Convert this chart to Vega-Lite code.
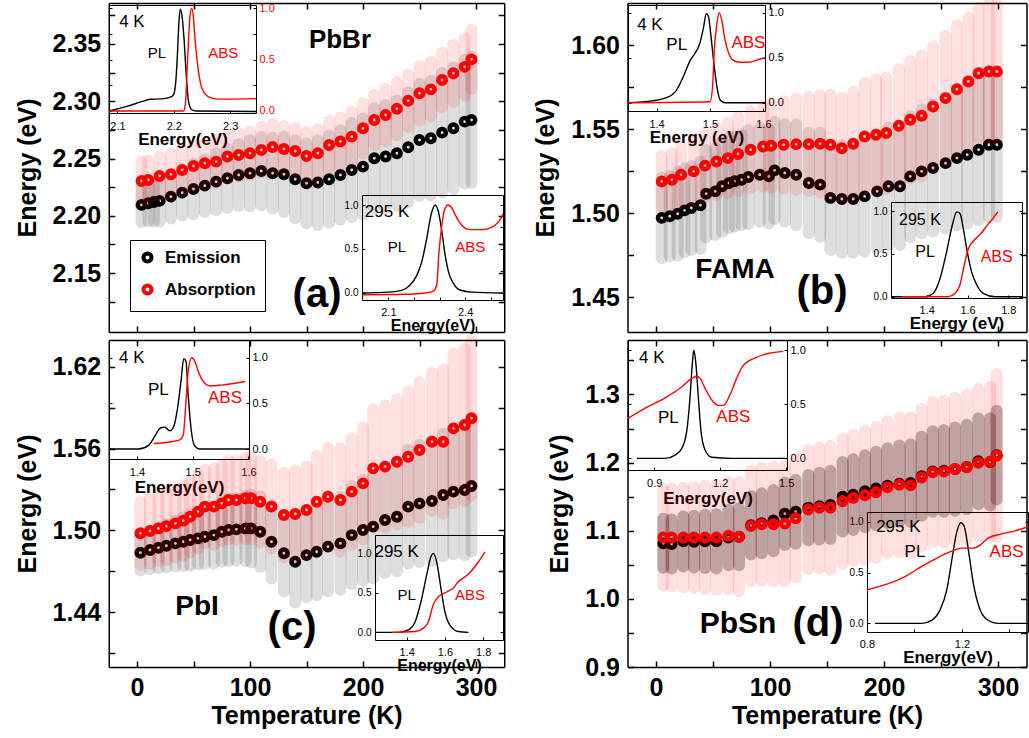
{
"$schema":"https://vega.github.io/schema/vega-lite/v6.json",
"width":1029,"height":738,"autosize":{"type":"none"},"padding":0,
"config":{"view":{"stroke":null},"font":"Liberation Sans","axis":{"grid":false,"domainColor":"#000","tickColor":"#000","labelColor":"#000","titleColor":"#000","labelOverlap":false,"labelFlush":false}},
"datasets":{
"a_em":[{"T":4,"E":2.2095,"err":0.015},{"T":10,"E":2.2109,"err":0.016},{"T":15,"E":2.212,"err":0.017},{"T":20,"E":2.213,"err":0.018},{"T":30,"E":2.2167,"err":0.019},{"T":40,"E":2.2202,"err":0.02},{"T":50,"E":2.2234,"err":0.022},{"T":60,"E":2.2263,"err":0.023},{"T":70,"E":2.2298,"err":0.025},{"T":80,"E":2.2327,"err":0.026},{"T":90,"E":2.2356,"err":0.027},{"T":100,"E":2.2371,"err":0.029},{"T":110,"E":2.2391,"err":0.03},{"T":120,"E":2.2371,"err":0.031},{"T":130,"E":2.2362,"err":0.033},{"T":140,"E":2.2319,"err":0.034},{"T":150,"E":2.2284,"err":0.035},{"T":160,"E":2.229,"err":0.037},{"T":170,"E":2.2319,"err":0.038},{"T":180,"E":2.2356,"err":0.039},{"T":190,"E":2.24,"err":0.041},{"T":200,"E":2.2429,"err":0.042},{"T":210,"E":2.2502,"err":0.044},{"T":220,"E":2.2517,"err":0.045},{"T":230,"E":2.2546,"err":0.046},{"T":240,"E":2.2598,"err":0.048},{"T":250,"E":2.2662,"err":0.049},{"T":260,"E":2.2677,"err":0.05},{"T":270,"E":2.2726,"err":0.052},{"T":280,"E":2.2764,"err":0.053},{"T":290,"E":2.2822,"err":0.054},{"T":296,"E":2.2837,"err":0.055}],
"a_ab":[{"T":4,"E":2.2304,"err":0.017},{"T":10,"E":2.2313,"err":0.017},{"T":20,"E":2.2348,"err":0.017},{"T":30,"E":2.2362,"err":0.018},{"T":40,"E":2.24,"err":0.018},{"T":50,"E":2.2435,"err":0.018},{"T":60,"E":2.2458,"err":0.018},{"T":70,"E":2.2473,"err":0.019},{"T":80,"E":2.2517,"err":0.019},{"T":90,"E":2.2531,"err":0.019},{"T":100,"E":2.2546,"err":0.019},{"T":110,"E":2.2575,"err":0.02},{"T":120,"E":2.26,"err":0.02},{"T":130,"E":2.2583,"err":0.02},{"T":140,"E":2.2566,"err":0.02},{"T":150,"E":2.2522,"err":0.021},{"T":160,"E":2.2546,"err":0.021},{"T":170,"E":2.2618,"err":0.021},{"T":180,"E":2.2648,"err":0.021},{"T":190,"E":2.2691,"err":0.022},{"T":200,"E":2.2764,"err":0.022},{"T":210,"E":2.2837,"err":0.022},{"T":220,"E":2.288,"err":0.023},{"T":230,"E":2.2935,"err":0.023},{"T":240,"E":2.3005,"err":0.023},{"T":250,"E":2.307,"err":0.024},{"T":260,"E":2.3104,"err":0.024},{"T":270,"E":2.3186,"err":0.024},{"T":280,"E":2.3244,"err":0.025},{"T":290,"E":2.33,"err":0.025},{"T":296,"E":2.3366,"err":0.026}],
"b_em":[{"T":5,"E":1.4971,"err":0.024},{"T":12,"E":1.4981,"err":0.024},{"T":19,"E":1.4996,"err":0.025},{"T":25,"E":1.5016,"err":0.025},{"T":31,"E":1.503,"err":0.025},{"T":39,"E":1.5046,"err":0.026},{"T":44,"E":1.5115,"err":0.026},{"T":52,"E":1.5129,"err":0.026},{"T":58,"E":1.5159,"err":0.027},{"T":64,"E":1.5179,"err":0.027},{"T":69,"E":1.5189,"err":0.027},{"T":75,"E":1.5198,"err":0.027},{"T":81,"E":1.5214,"err":0.028},{"T":91,"E":1.5228,"err":0.028},{"T":99,"E":1.5218,"err":0.028},{"T":104,"E":1.5254,"err":0.029},{"T":113,"E":1.5238,"err":0.029},{"T":123,"E":1.5228,"err":0.03},{"T":134,"E":1.5179,"err":0.03},{"T":144,"E":1.5169,"err":0.031},{"T":153,"E":1.509,"err":0.031},{"T":163,"E":1.5084,"err":0.032},{"T":173,"E":1.5084,"err":0.032},{"T":183,"E":1.5099,"err":0.033},{"T":194,"E":1.5129,"err":0.034},{"T":204,"E":1.5159,"err":0.035},{"T":214,"E":1.5159,"err":0.035},{"T":223,"E":1.5218,"err":0.036},{"T":233,"E":1.5248,"err":0.037},{"T":243,"E":1.5268,"err":0.038},{"T":254,"E":1.5297,"err":0.039},{"T":264,"E":1.5327,"err":0.04},{"T":273,"E":1.5347,"err":0.041},{"T":283,"E":1.5377,"err":0.042},{"T":292,"E":1.5406,"err":0.043},{"T":299,"E":1.5406,"err":0.043}],
"b_ab":[{"T":5,"E":1.5188,"err":0.015},{"T":14,"E":1.5198,"err":0.016},{"T":22,"E":1.5228,"err":0.017},{"T":33,"E":1.5248,"err":0.018},{"T":43,"E":1.5282,"err":0.019},{"T":53,"E":1.5307,"err":0.02},{"T":63,"E":1.5327,"err":0.021},{"T":72,"E":1.5351,"err":0.022},{"T":83,"E":1.5377,"err":0.023},{"T":94,"E":1.5396,"err":0.024},{"T":101,"E":1.54,"err":0.025},{"T":112,"E":1.5406,"err":0.026},{"T":123,"E":1.541,"err":0.027},{"T":134,"E":1.541,"err":0.028},{"T":144,"E":1.5412,"err":0.029},{"T":153,"E":1.5406,"err":0.03},{"T":163,"E":1.5386,"err":0.03},{"T":173,"E":1.5412,"err":0.031},{"T":183,"E":1.5456,"err":0.032},{"T":193,"E":1.5466,"err":0.033},{"T":202,"E":1.5476,"err":0.033},{"T":213,"E":1.5519,"err":0.034},{"T":223,"E":1.5555,"err":0.035},{"T":233,"E":1.5579,"err":0.036},{"T":243,"E":1.5634,"err":0.036},{"T":254,"E":1.5684,"err":0.037},{"T":264,"E":1.5737,"err":0.038},{"T":274,"E":1.5783,"err":0.038},{"T":283,"E":1.5832,"err":0.039},{"T":292,"E":1.5842,"err":0.04},{"T":299,"E":1.5842,"err":0.04}],
"c_em":[{"T":3,"E":1.4835,"err":0.013},{"T":11.5,"E":1.4855,"err":0.014},{"T":19,"E":1.4872,"err":0.015},{"T":26,"E":1.4887,"err":0.016},{"T":34,"E":1.4904,"err":0.017},{"T":41,"E":1.4916,"err":0.018},{"T":47,"E":1.4929,"err":0.019},{"T":54,"E":1.4941,"err":0.019},{"T":60,"E":1.4953,"err":0.02},{"T":68,"E":1.4965,"err":0.021},{"T":75,"E":1.499,"err":0.022},{"T":81,"E":1.5002,"err":0.023},{"T":88,"E":1.5007,"err":0.023},{"T":96,"E":1.5014,"err":0.024},{"T":101,"E":1.5014,"err":0.025},{"T":109,"E":1.499,"err":0.026},{"T":119,"E":1.4916,"err":0.027},{"T":130,"E":1.4831,"err":0.028},{"T":140,"E":1.4769,"err":0.03},{"T":150,"E":1.4818,"err":0.031},{"T":159,"E":1.4843,"err":0.032},{"T":169,"E":1.488,"err":0.033},{"T":180,"E":1.4904,"err":0.034},{"T":190,"E":1.4965,"err":0.036},{"T":200,"E":1.5002,"err":0.037},{"T":209,"E":1.5027,"err":0.038},{"T":219.5,"E":1.5076,"err":0.039},{"T":230,"E":1.51,"err":0.04},{"T":240,"E":1.5174,"err":0.042},{"T":250,"E":1.5198,"err":0.043},{"T":261,"E":1.5215,"err":0.044},{"T":271,"E":1.5259,"err":0.045},{"T":280,"E":1.5284,"err":0.046},{"T":290,"E":1.5296,"err":0.048},{"T":296,"E":1.5325,"err":0.048}],
"c_ab":[{"T":3,"E":1.4978,"err":0.023},{"T":11.5,"E":1.4995,"err":0.024},{"T":19,"E":1.5014,"err":0.024},{"T":26,"E":1.5031,"err":0.025},{"T":34,"E":1.5051,"err":0.025},{"T":41,"E":1.5071,"err":0.026},{"T":47,"E":1.51,"err":0.026},{"T":54,"E":1.5137,"err":0.027},{"T":60,"E":1.5174,"err":0.027},{"T":68,"E":1.5174,"err":0.028},{"T":75,"E":1.5198,"err":0.028},{"T":81,"E":1.5223,"err":0.029},{"T":88,"E":1.5223,"err":0.029},{"T":96,"E":1.5235,"err":0.03},{"T":101,"E":1.5235,"err":0.03},{"T":109,"E":1.521,"err":0.03},{"T":119,"E":1.5174,"err":0.031},{"T":130,"E":1.5112,"err":0.031},{"T":140,"E":1.512,"err":0.032},{"T":150,"E":1.5149,"err":0.032},{"T":159,"E":1.521,"err":0.034},{"T":169,"E":1.5247,"err":0.036},{"T":180,"E":1.5223,"err":0.038},{"T":190,"E":1.5284,"err":0.039},{"T":200,"E":1.5345,"err":0.041},{"T":209,"E":1.5455,"err":0.043},{"T":219.5,"E":1.5468,"err":0.045},{"T":230,"E":1.5504,"err":0.046},{"T":240,"E":1.5541,"err":0.048},{"T":250,"E":1.559,"err":0.05},{"T":261,"E":1.5651,"err":0.051},{"T":271,"E":1.5651,"err":0.053},{"T":280,"E":1.5749,"err":0.055},{"T":290,"E":1.5774,"err":0.056},{"T":296,"E":1.5823,"err":0.057}],
"d_em":[{"T":6.4,"E":1.0815,"err":0.036},{"T":13.7,"E":1.0805,"err":0.036},{"T":24,"E":1.0844,"err":0.037},{"T":33.3,"E":1.0839,"err":0.038},{"T":43,"E":1.0844,"err":0.039},{"T":53,"E":1.0844,"err":0.04},{"T":63.5,"E":1.0902,"err":0.041},{"T":72.8,"E":1.0912,"err":0.042},{"T":83.3,"E":1.108,"err":0.043},{"T":92.7,"E":1.111,"err":0.044},{"T":103,"E":1.115,"err":0.045},{"T":113,"E":1.125,"err":0.046},{"T":122.5,"E":1.128,"err":0.047},{"T":133.6,"E":1.134,"err":0.048},{"T":143.3,"E":1.136,"err":0.049},{"T":153,"E":1.138,"err":0.05},{"T":163.7,"E":1.15,"err":0.051},{"T":173,"E":1.153,"err":0.052},{"T":183.3,"E":1.158,"err":0.053},{"T":193,"E":1.162,"err":0.054},{"T":203,"E":1.166,"err":0.055},{"T":213.5,"E":1.169,"err":0.056},{"T":223.4,"E":1.17,"err":0.057},{"T":233,"E":1.18,"err":0.058},{"T":242.7,"E":1.187,"err":0.059},{"T":252.6,"E":1.188,"err":0.06},{"T":262.3,"E":1.1905,"err":0.061},{"T":272.5,"E":1.1935,"err":0.062},{"T":282.7,"E":1.202,"err":0.063},{"T":293,"E":1.201,"err":0.064},{"T":298.8,"E":1.211,"err":0.065}],
"d_ab":[{"T":6.4,"E":1.0902,"err":0.071},{"T":13.7,"E":1.0902,"err":0.072},{"T":24,"E":1.0902,"err":0.073},{"T":33.3,"E":1.0902,"err":0.074},{"T":43,"E":1.0902,"err":0.076},{"T":53,"E":1.0902,"err":0.077},{"T":63.5,"E":1.0927,"err":0.079},{"T":72.8,"E":1.0912,"err":0.08},{"T":83.3,"E":1.1071,"err":0.081},{"T":92.7,"E":1.1096,"err":0.083},{"T":103,"E":1.1096,"err":0.084},{"T":113,"E":1.1105,"err":0.085},{"T":122.5,"E":1.1183,"err":0.087},{"T":133.6,"E":1.1313,"err":0.088},{"T":143.3,"E":1.1337,"err":0.089},{"T":153,"E":1.1337,"err":0.091},{"T":163.7,"E":1.1434,"err":0.092},{"T":173,"E":1.1482,"err":0.093},{"T":183.3,"E":1.1521,"err":0.095},{"T":193,"E":1.1564,"err":0.096},{"T":203,"E":1.1637,"err":0.097},{"T":213.5,"E":1.1675,"err":0.099},{"T":223.4,"E":1.1666,"err":0.1},{"T":233,"E":1.1781,"err":0.101},{"T":242.7,"E":1.1859,"err":0.103},{"T":252.6,"E":1.1868,"err":0.104},{"T":262.3,"E":1.1907,"err":0.105},{"T":272.5,"E":1.1931,"err":0.107},{"T":282.7,"E":1.1999,"err":0.108},{"T":293,"E":1.2013,"err":0.11},{"T":298.8,"E":1.21,"err":0.12}],
"a1_pl":[{"E":2.085,"v":0},{"E":2.12,"v":0.05},{"E":2.143,"v":0.09},{"E":2.158,"v":0.113},{"E":2.179,"v":0.117},{"E":2.1965,"v":0.14},{"E":2.2005,"v":0.17},{"E":2.2035,"v":0.28},{"E":2.2065,"v":0.55},{"E":2.209,"v":0.85},{"E":2.2115,"v":0.99},{"E":2.2145,"v":0.93},{"E":2.218,"v":0.72},{"E":2.222,"v":0.36},{"E":2.226,"v":0.1},{"E":2.232,"v":0.01},{"E":2.24,"v":0},{"E":2.346,"v":-0.005}],
"a1_abs":[{"E":2.085,"v":0},{"E":2.217,"v":0},{"E":2.2205,"v":0.06},{"E":2.2235,"v":0.38},{"E":2.2265,"v":0.72},{"E":2.229,"v":0.93},{"E":2.232,"v":1.0},{"E":2.235,"v":0.9},{"E":2.238,"v":0.68},{"E":2.244,"v":0.38},{"E":2.25,"v":0.22},{"E":2.261,"v":0.14},{"E":2.279,"v":0.115},{"E":2.346,"v":0.12}],
"a2_pl":[{"E":1.997,"v":0},{"E":2.1,"v":0.01},{"E":2.152,"v":0.03},{"E":2.185,"v":0.09},{"E":2.211,"v":0.2},{"E":2.231,"v":0.36},{"E":2.25,"v":0.62},{"E":2.267,"v":0.89},{"E":2.283,"v":1.0},{"E":2.296,"v":0.92},{"E":2.309,"v":0.7},{"E":2.322,"v":0.43},{"E":2.335,"v":0.24},{"E":2.354,"v":0.11},{"E":2.38,"v":0.034},{"E":2.426,"v":0.01},{"E":2.547,"v":0}],
"a2_abs":[{"E":1.997,"v":-0.02},{"E":2.165,"v":-0.015},{"E":2.244,"v":0},{"E":2.276,"v":0.02},{"E":2.289,"v":0.09},{"E":2.298,"v":0.47},{"E":2.309,"v":0.77},{"E":2.319,"v":0.94},{"E":2.332,"v":1.0},{"E":2.345,"v":0.98},{"E":2.361,"v":0.89},{"E":2.387,"v":0.77},{"E":2.42,"v":0.72},{"E":2.466,"v":0.72},{"E":2.505,"v":0.75},{"E":2.544,"v":0.87},{"E":2.547,"v":0.9}],
"b1_pl":[{"E":1.3465,"v":0},{"E":1.391,"v":0.02},{"E":1.416,"v":0.05},{"E":1.435,"v":0.12},{"E":1.45,"v":0.29},{"E":1.463,"v":0.47},{"E":1.472,"v":0.55},{"E":1.481,"v":0.66},{"E":1.488,"v":0.84},{"E":1.493,"v":0.99},{"E":1.497,"v":0.96},{"E":1.502,"v":0.73},{"E":1.506,"v":0.51},{"E":1.513,"v":0.18},{"E":1.519,"v":0.03},{"E":1.528,"v":0},{"E":1.603,"v":0}],
"b1_abs":[{"E":1.3465,"v":0},{"E":1.5,"v":0.01},{"E":1.505,"v":0.19},{"E":1.508,"v":0.58},{"E":1.513,"v":0.88},{"E":1.517,"v":1.0},{"E":1.522,"v":0.92},{"E":1.528,"v":0.7},{"E":1.535,"v":0.55},{"E":1.544,"v":0.47},{"E":1.556,"v":0.45},{"E":1.572,"v":0.45},{"E":1.591,"v":0.48},{"E":1.603,"v":0.5}],
"b2_pl":[{"E":1.225,"v":0},{"E":1.392,"v":0},{"E":1.432,"v":0.04},{"E":1.465,"v":0.21},{"E":1.498,"v":0.53},{"E":1.526,"v":0.84},{"E":1.547,"v":0.99},{"E":1.563,"v":0.97},{"E":1.579,"v":0.8},{"E":1.596,"v":0.56},{"E":1.62,"v":0.29},{"E":1.645,"v":0.14},{"E":1.677,"v":0.04},{"E":1.735,"v":0},{"E":1.866,"v":0}],
"b2_abs":[{"E":1.277,"v":0},{"E":1.506,"v":0},{"E":1.539,"v":0.04},{"E":1.563,"v":0.14},{"E":1.584,"v":0.37},{"E":1.604,"v":0.56},{"E":1.637,"v":0.67},{"E":1.67,"v":0.75},{"E":1.702,"v":0.85},{"E":1.727,"v":0.92},{"E":1.748,"v":0.99}],
"c1_pl":[{"E":1.35,"v":0},{"E":1.403,"v":0},{"E":1.421,"v":0.04},{"E":1.433,"v":0.15},{"E":1.442,"v":0.23},{"E":1.45,"v":0.24},{"E":1.459,"v":0.2},{"E":1.465,"v":0.23},{"E":1.473,"v":0.45},{"E":1.479,"v":0.74},{"E":1.484,"v":0.99},{"E":1.488,"v":0.96},{"E":1.492,"v":0.59},{"E":1.497,"v":0.23},{"E":1.503,"v":0.04},{"E":1.513,"v":0},{"E":1.601,"v":0}],
"c1_abs":[{"E":1.43,"v":0.06},{"E":1.462,"v":0.08},{"E":1.477,"v":0.1},{"E":1.483,"v":0.15},{"E":1.488,"v":0.52},{"E":1.492,"v":0.85},{"E":1.498,"v":1.0},{"E":1.504,"v":0.96},{"E":1.51,"v":0.85},{"E":1.519,"v":0.74},{"E":1.531,"v":0.69},{"E":1.552,"v":0.7},{"E":1.576,"v":0.72},{"E":1.594,"v":0.74}],
"c2_pl":[{"E":1.235,"v":0},{"E":1.357,"v":0},{"E":1.409,"v":0.03},{"E":1.444,"v":0.13},{"E":1.475,"v":0.39},{"E":1.505,"v":0.73},{"E":1.527,"v":0.96},{"E":1.539,"v":1.0},{"E":1.557,"v":0.89},{"E":1.579,"v":0.56},{"E":1.6,"v":0.26},{"E":1.626,"v":0.09},{"E":1.669,"v":0.01},{"E":1.722,"v":0}],
"c2_abs":[{"E":1.322,"v":0},{"E":1.444,"v":0.01},{"E":1.487,"v":0.05},{"E":1.513,"v":0.13},{"E":1.539,"v":0.35},{"E":1.565,"v":0.45},{"E":1.609,"v":0.51},{"E":1.644,"v":0.56},{"E":1.669,"v":0.64},{"E":1.704,"v":0.7},{"E":1.739,"v":0.78},{"E":1.774,"v":0.89},{"E":1.809,"v":1.02}],
"d1_pl":[{"E":0.821,"v":0},{"E":0.95,"v":0},{"E":0.995,"v":0.03},{"E":1.025,"v":0.09},{"E":1.048,"v":0.25},{"E":1.063,"v":0.56},{"E":1.074,"v":0.89},{"E":1.08,"v":1.0},{"E":1.089,"v":0.89},{"E":1.101,"v":0.56},{"E":1.113,"v":0.25},{"E":1.131,"v":0.08},{"E":1.162,"v":0.01},{"E":1.253,"v":0},{"E":1.495,"v":0}],
"d1_abs":[{"E":0.781,"v":0.37},{"E":0.874,"v":0.48},{"E":0.95,"v":0.56},{"E":1.025,"v":0.66},{"E":1.071,"v":0.74},{"E":1.094,"v":0.76},{"E":1.109,"v":0.74},{"E":1.131,"v":0.65},{"E":1.162,"v":0.54},{"E":1.192,"v":0.49},{"E":1.215,"v":0.49},{"E":1.245,"v":0.59},{"E":1.275,"v":0.74},{"E":1.305,"v":0.86},{"E":1.359,"v":0.93},{"E":1.419,"v":0.97},{"E":1.487,"v":0.99}],
"d2_pl":[{"E":0.834,"v":0},{"E":1.03,"v":0},{"E":1.072,"v":0.03},{"E":1.107,"v":0.13},{"E":1.136,"v":0.33},{"E":1.159,"v":0.65},{"E":1.178,"v":0.9},{"E":1.196,"v":0.99},{"E":1.21,"v":0.95},{"E":1.227,"v":0.72},{"E":1.248,"v":0.39},{"E":1.272,"v":0.16},{"E":1.304,"v":0.04},{"E":1.353,"v":0},{"E":1.478,"v":0}],
"d2_abs":[{"E":0.8,"v":0.33},{"E":0.89,"v":0.39},{"E":0.96,"v":0.46},{"E":1.03,"v":0.56},{"E":1.1,"v":0.65},{"E":1.157,"v":0.71},{"E":1.199,"v":0.74},{"E":1.248,"v":0.74},{"E":1.276,"v":0.77},{"E":1.311,"v":0.84},{"E":1.367,"v":0.88},{"E":1.423,"v":0.91},{"E":1.478,"v":0.95}]
},
"layer":[
{"layer":[
 {"data":{"name":"a_em"},"mark":{"type":"errorbar","ticks":false,"thickness":12,"color":"#000","opacity":0.13,"rule":{"strokeCap":"round"}},
  "encoding":{"x":{"field":"T","type":"quantitative","scale":{"domain":[-25,325],"range":[108.75,504.25],"nice":false,"zero":false},"axis":null},"y":{"field":"E","type":"quantitative","scale":{"domain":[2.0985,2.3858],"range":[332,3],"nice":false,"zero":false},"axis":null},"yError":{"field":"err"}}},
 {"data":{"name":"a_em"},"mark":{"type":"point","shape":"circle","filled":false,"size":55,"strokeWidth":4.5,"opacity":1},
  "encoding":{"x":{"field":"T","type":"quantitative","scale":{"domain":[-25,325],"range":[108.75,504.25],"nice":false,"zero":false},"axis":{"orient":"bottom","offset":-406,"values":[0,50,100,150,200,250,300],"labels":false,"tickSize":-6,"tickWidth":1.5,"domainWidth":1.5,"title":null}},
   "y":{"field":"E","type":"quantitative","scale":{"domain":[2.0985,2.3858],"range":[332,3],"nice":false,"zero":false},"axis":{"orient":"left","offset":-108.75,"values":[2.125,2.15,2.175,2.2,2.225,2.25,2.275,2.3,2.325,2.35,2.375],"labelExpr":"round(datum.value*1000) % 50 == 0 ? format(datum.value, '.2f') : ''","tickSize":-6,"tickWidth":1.5,"domainWidth":1.5,"labelPadding":14,"labelFontSize":25,"labelFontWeight":"bold","title":"Energy (eV)","titleFontSize":25,"titleFontWeight":"bold","titlePadding":12}},
   "color":{"datum":"Emission","scale":{"domain":["Emission","Absorption"],"range":["#000000","#ff0000"]},"legend":{"orient":"none","legendX":130,"legendY":240,"title":null,"strokeColor":"#000","fillColor":"#fff","padding":9,"labelFontSize":17,"labelFontWeight":"bold","symbolType":"circle","symbolSize":65,"symbolStrokeWidth":4,"rowPadding":7,"labelOffset":9}}}},
 {"data":{"name":"a_ab"},"mark":{"type":"errorbar","ticks":false,"thickness":12,"color":"#ff0000","opacity":0.12,"rule":{"strokeCap":"round"}},
  "encoding":{"x":{"field":"T","type":"quantitative","scale":{"domain":[-25,325],"range":[108.75,504.25],"nice":false,"zero":false},"axis":null},"y":{"field":"E","type":"quantitative","scale":{"domain":[2.0985,2.3858],"range":[332,3],"nice":false,"zero":false},"axis":null},"yError":{"field":"err"}}},
 {"data":{"name":"a_ab"},"mark":{"type":"point","shape":"circle","filled":false,"size":55,"strokeWidth":4.5,"opacity":1},
  "encoding":{"x":{"field":"T","type":"quantitative","scale":{"domain":[-25,325],"range":[108.75,504.25],"nice":false,"zero":false},"axis":{"orient":"top","offset":-3,"values":[0,50,100,150,200,250,300],"labels":false,"tickSize":-6,"tickWidth":1.5,"domainWidth":1.5,"title":null}},
   "y":{"field":"E","type":"quantitative","scale":{"domain":[2.0985,2.3858],"range":[332,3],"nice":false,"zero":false},"axis":{"orient":"right","offset":-524.75,"values":[2.125,2.15,2.175,2.2,2.225,2.25,2.275,2.3,2.325,2.35,2.375],"labels":false,"tickSize":-6,"tickWidth":1.5,"domainWidth":1.5,"title":null}},
   "color":{"datum":"Absorption"}}},
 {"data":{"values":[{"T":179.6,"E":2.3535,"t":"PbBr"}]},"mark":{"type":"text","fontSize":26,"fontWeight":"bold","color":"#000"},
  "encoding":{"x":{"field":"T","type":"quantitative","scale":{"domain":[-25,325],"range":[108.75,504.25],"nice":false,"zero":false},"axis":null},"y":{"field":"E","type":"quantitative","scale":{"domain":[2.0985,2.3858],"range":[332,3],"nice":false,"zero":false},"axis":null},"text":{"field":"t"}}},
 {"data":{"values":[{"T":159.3,"E":2.1309,"t":"(a)"}]},"mark":{"type":"text","fontSize":40,"fontWeight":"bold","color":"#000"},
  "encoding":{"x":{"field":"T","type":"quantitative","scale":{"domain":[-25,325],"range":[108.75,504.25],"nice":false,"zero":false},"axis":null},"y":{"field":"E","type":"quantitative","scale":{"domain":[2.0985,2.3858],"range":[332,3],"nice":false,"zero":false},"axis":null},"text":{"field":"t"}}}
],"resolve":{"axis":{"x":"independent","y":"independent"}}},

{"layer":[
 {"data":{"name":"b_em"},"mark":{"type":"errorbar","ticks":false,"thickness":12,"color":"#000","opacity":0.13,"rule":{"strokeCap":"round"}},
  "encoding":{"x":{"field":"T","type":"quantitative","scale":{"domain":[-25,325],"range":[627.5,1026.5],"nice":false,"zero":false},"axis":null},"y":{"field":"E","type":"quantitative","scale":{"domain":[1.4292,1.625],"range":[332,3],"nice":false,"zero":false},"axis":null},"yError":{"field":"err"}}},
 {"data":{"name":"b_em"},"mark":{"type":"point","shape":"circle","filled":false,"size":55,"strokeWidth":4.5,"opacity":1,"color":"#000"},
  "encoding":{"x":{"field":"T","type":"quantitative","scale":{"domain":[-25,325],"range":[627.5,1026.5],"nice":false,"zero":false},"axis":{"orient":"bottom","offset":-406,"values":[0,50,100,150,200,250,300],"labels":false,"tickSize":-6,"tickWidth":1.5,"domainWidth":1.5,"title":null}},
   "y":{"field":"E","type":"quantitative","scale":{"domain":[1.4292,1.625],"range":[332,3],"nice":false,"zero":false},"axis":{"orient":"left","offset":-627.5,"values":[1.45,1.475,1.5,1.525,1.55,1.575,1.6],"labelExpr":"round(datum.value*1000) % 50 == 0 ? format(datum.value, '.2f') : ''","tickSize":-6,"tickWidth":1.5,"domainWidth":1.5,"labelPadding":14,"labelFontSize":25,"labelFontWeight":"bold","title":"Energy (eV)","titleFontSize":25,"titleFontWeight":"bold","titlePadding":12}}}},
 {"data":{"name":"b_ab"},"mark":{"type":"errorbar","ticks":false,"thickness":12,"color":"#ff0000","opacity":0.12,"rule":{"strokeCap":"round"}},
  "encoding":{"x":{"field":"T","type":"quantitative","scale":{"domain":[-25,325],"range":[627.5,1026.5],"nice":false,"zero":false},"axis":null},"y":{"field":"E","type":"quantitative","scale":{"domain":[1.4292,1.625],"range":[332,3],"nice":false,"zero":false},"axis":null},"yError":{"field":"err"}}},
 {"data":{"name":"b_ab"},"mark":{"type":"point","shape":"circle","filled":false,"size":55,"strokeWidth":4.5,"opacity":1,"color":"#ff0000"},
  "encoding":{"x":{"field":"T","type":"quantitative","scale":{"domain":[-25,325],"range":[627.5,1026.5],"nice":false,"zero":false},"axis":{"orient":"top","offset":-3,"values":[0,50,100,150,200,250,300],"labels":false,"tickSize":-6,"tickWidth":1.5,"domainWidth":1.5,"title":null}},
   "y":{"field":"E","type":"quantitative","scale":{"domain":[1.4292,1.625],"range":[332,3],"nice":false,"zero":false},"axis":{"orient":"right","offset":-2.5,"values":[1.45,1.475,1.5,1.525,1.55,1.575,1.6],"labels":false,"tickSize":-6,"tickWidth":1.5,"domainWidth":1.5,"title":null}}}},
 {"data":{"values":[{"T":69.3,"E":1.4661,"t":"FAMA"}]},"mark":{"type":"text","fontSize":28,"fontWeight":"bold","color":"#000"},
  "encoding":{"x":{"field":"T","type":"quantitative","scale":{"domain":[-25,325],"range":[627.5,1026.5],"nice":false,"zero":false},"axis":null},"y":{"field":"E","type":"quantitative","scale":{"domain":[1.4292,1.625],"range":[332,3],"nice":false,"zero":false},"axis":null},"text":{"field":"t"}}},
 {"data":{"values":[{"T":145.6,"E":1.453,"t":"(b)"}]},"mark":{"type":"text","fontSize":40,"fontWeight":"bold","color":"#000"},
  "encoding":{"x":{"field":"T","type":"quantitative","scale":{"domain":[-25,325],"range":[627.5,1026.5],"nice":false,"zero":false},"axis":null},"y":{"field":"E","type":"quantitative","scale":{"domain":[1.4292,1.625],"range":[332,3],"nice":false,"zero":false},"axis":null},"text":{"field":"t"}}}
],"resolve":{"axis":{"x":"independent","y":"independent"}}},

{"layer":[
 {"data":{"name":"c_em"},"mark":{"type":"errorbar","ticks":false,"thickness":12,"color":"#000","opacity":0.13,"rule":{"strokeCap":"round"}},
  "encoding":{"x":{"field":"T","type":"quantitative","scale":{"domain":[-25,325],"range":[108.75,504.25],"nice":false,"zero":false},"axis":null},"y":{"field":"E","type":"quantitative","scale":{"domain":[1.3996,1.6398],"range":[667,340],"nice":false,"zero":false},"axis":null},"yError":{"field":"err"}}},
 {"data":{"name":"c_em"},"mark":{"type":"point","shape":"circle","filled":false,"size":55,"strokeWidth":4.5,"opacity":1,"color":"#000"},
  "encoding":{"x":{"field":"T","type":"quantitative","scale":{"domain":[-25,325],"range":[108.75,504.25],"nice":false,"zero":false},"axis":{"orient":"bottom","offset":-71,"values":[0,50,100,150,200,250,300],"labelExpr":"datum.value % 100 == 0 ? format(datum.value, 'd') : ''","tickSize":-6,"tickWidth":1.5,"domainWidth":1.5,"labelPadding":14,"labelFontSize":25,"labelFontWeight":"bold","title":"Temperature (K)","titleFontSize":25,"titleFontWeight":"bold","titlePadding":3}},
   "y":{"field":"E","type":"quantitative","scale":{"domain":[1.3996,1.6398],"range":[667,340],"nice":false,"zero":false},"axis":{"orient":"left","offset":-108.75,"values":[1.41,1.44,1.47,1.5,1.53,1.56,1.59,1.62],"labelExpr":"round(datum.value*100) % 6 == 0 ? format(datum.value, '.2f') : ''","tickSize":-6,"tickWidth":1.5,"domainWidth":1.5,"labelPadding":14,"labelFontSize":25,"labelFontWeight":"bold","title":"Energy (eV)","titleFontSize":25,"titleFontWeight":"bold","titlePadding":12}}}},
 {"data":{"name":"c_ab"},"mark":{"type":"errorbar","ticks":false,"thickness":12,"color":"#ff0000","opacity":0.12,"rule":{"strokeCap":"round"}},
  "encoding":{"x":{"field":"T","type":"quantitative","scale":{"domain":[-25,325],"range":[108.75,504.25],"nice":false,"zero":false},"axis":null},"y":{"field":"E","type":"quantitative","scale":{"domain":[1.3996,1.6398],"range":[667,340],"nice":false,"zero":false},"axis":null},"yError":{"field":"err"}}},
 {"data":{"name":"c_ab"},"mark":{"type":"point","shape":"circle","filled":false,"size":55,"strokeWidth":4.5,"opacity":1,"color":"#ff0000"},
  "encoding":{"x":{"field":"T","type":"quantitative","scale":{"domain":[-25,325],"range":[108.75,504.25],"nice":false,"zero":false},"axis":{"orient":"top","offset":-340,"values":[0,50,100,150,200,250,300],"labels":false,"tickSize":-6,"tickWidth":1.5,"domainWidth":1.5,"title":null}},
   "y":{"field":"E","type":"quantitative","scale":{"domain":[1.3996,1.6398],"range":[667,340],"nice":false,"zero":false},"axis":{"orient":"right","offset":-524.75,"values":[1.41,1.44,1.47,1.5,1.53,1.56,1.59,1.62],"labels":false,"tickSize":-6,"tickWidth":1.5,"domainWidth":1.5,"title":null}}}},
 {"data":{"values":[{"T":53.1,"E":1.4436,"t":"PbI"}]},"mark":{"type":"text","fontSize":28,"fontWeight":"bold","color":"#000"},
  "encoding":{"x":{"field":"T","type":"quantitative","scale":{"domain":[-25,325],"range":[108.75,504.25],"nice":false,"zero":false},"axis":null},"y":{"field":"E","type":"quantitative","scale":{"domain":[1.3996,1.6398],"range":[667,340],"nice":false,"zero":false},"axis":null},"text":{"field":"t"}}},
 {"data":{"values":[{"T":137.2,"E":1.4281,"t":"(c)"}]},"mark":{"type":"text","fontSize":40,"fontWeight":"bold","color":"#000"},
  "encoding":{"x":{"field":"T","type":"quantitative","scale":{"domain":[-25,325],"range":[108.75,504.25],"nice":false,"zero":false},"axis":null},"y":{"field":"E","type":"quantitative","scale":{"domain":[1.3996,1.6398],"range":[667,340],"nice":false,"zero":false},"axis":null},"text":{"field":"t"}}}
],"resolve":{"axis":{"x":"independent","y":"independent"}}},

{"layer":[
 {"data":{"name":"d_em"},"mark":{"type":"errorbar","ticks":false,"thickness":12,"color":"#000","opacity":0.28,"rule":{"strokeCap":"round"}},
  "encoding":{"x":{"field":"T","type":"quantitative","scale":{"domain":[-25,325],"range":[627.5,1026.5],"nice":false,"zero":false},"axis":null},"y":{"field":"E","type":"quantitative","scale":{"domain":[0.9,1.38],"range":[667,340],"nice":false,"zero":false},"axis":null},"yError":{"field":"err"}}},
 {"data":{"name":"d_em"},"mark":{"type":"point","shape":"circle","filled":false,"size":55,"strokeWidth":4.5,"opacity":1,"color":"#000"},
  "encoding":{"x":{"field":"T","type":"quantitative","scale":{"domain":[-25,325],"range":[627.5,1026.5],"nice":false,"zero":false},"axis":{"orient":"bottom","offset":-71,"values":[0,50,100,150,200,250,300],"labelExpr":"datum.value % 100 == 0 ? format(datum.value, 'd') : ''","tickSize":-6,"tickWidth":1.5,"domainWidth":1.5,"labelPadding":14,"labelFontSize":25,"labelFontWeight":"bold","title":"Temperature (K)","titleFontSize":25,"titleFontWeight":"bold","titlePadding":3}},
   "y":{"field":"E","type":"quantitative","scale":{"domain":[0.9,1.38],"range":[667,340],"nice":false,"zero":false},"axis":{"orient":"left","offset":-627.5,"values":[0.9,0.95,1.0,1.05,1.1,1.15,1.2,1.25,1.3,1.35],"labelExpr":"round(datum.value*100) % 10 == 0 ? format(datum.value, '.1f') : ''","tickSize":-6,"tickWidth":1.5,"domainWidth":1.5,"labelPadding":14,"labelFontSize":25,"labelFontWeight":"bold","title":"Energy (eV)","titleFontSize":25,"titleFontWeight":"bold","titlePadding":12}}}},
 {"data":{"name":"d_ab"},"mark":{"type":"errorbar","ticks":false,"thickness":12,"color":"#ff0000","opacity":0.12,"rule":{"strokeCap":"round"}},
  "encoding":{"x":{"field":"T","type":"quantitative","scale":{"domain":[-25,325],"range":[627.5,1026.5],"nice":false,"zero":false},"axis":null},"y":{"field":"E","type":"quantitative","scale":{"domain":[0.9,1.38],"range":[667,340],"nice":false,"zero":false},"axis":null},"yError":{"field":"err"}}},
 {"data":{"name":"d_ab"},"mark":{"type":"point","shape":"circle","filled":false,"size":55,"strokeWidth":4.5,"opacity":1,"color":"#ff0000"},
  "encoding":{"x":{"field":"T","type":"quantitative","scale":{"domain":[-25,325],"range":[627.5,1026.5],"nice":false,"zero":false},"axis":{"orient":"top","offset":-340,"values":[0,50,100,150,200,250,300],"labels":false,"tickSize":-6,"tickWidth":1.5,"domainWidth":1.5,"title":null}},
   "y":{"field":"E","type":"quantitative","scale":{"domain":[0.9,1.38],"range":[667,340],"nice":false,"zero":false},"axis":{"orient":"right","offset":-2.5,"values":[0.9,0.95,1.0,1.05,1.1,1.15,1.2,1.25,1.3,1.35],"labels":false,"tickSize":-6,"tickWidth":1.5,"domainWidth":1.5,"title":null}}}},
 {"data":{"values":[{"T":71.9,"E":0.963,"t":"PbSn"}]},"mark":{"type":"text","fontSize":30,"fontWeight":"bold","color":"#000"},
  "encoding":{"x":{"field":"T","type":"quantitative","scale":{"domain":[-25,325],"range":[627.5,1026.5],"nice":false,"zero":false},"axis":null},"y":{"field":"E","type":"quantitative","scale":{"domain":[0.9,1.38],"range":[667,340],"nice":false,"zero":false},"axis":null},"text":{"field":"t"}}},
 {"data":{"values":[{"T":142.1,"E":0.963,"t":"(d)"}]},"mark":{"type":"text","fontSize":40,"fontWeight":"bold","color":"#000"},
  "encoding":{"x":{"field":"T","type":"quantitative","scale":{"domain":[-25,325],"range":[627.5,1026.5],"nice":false,"zero":false},"axis":null},"y":{"field":"E","type":"quantitative","scale":{"domain":[0.9,1.38],"range":[667,340],"nice":false,"zero":false},"axis":null},"text":{"field":"t"}}}
],"resolve":{"axis":{"x":"independent","y":"independent"}}},

{"layer":[
 {"data":{"name":"a1_pl"},"mark":{"type":"line","color":"#000","strokeWidth":1.4,"interpolate":"monotone"},
  "encoding":{"x":{"field":"E","type":"quantitative","scale":{"domain":[2.085,2.346],"range":[109,256],"nice":false,"zero":false},"axis":{"orient":"bottom","offset":-625,"values":[2.1,2.2,2.3],"format":".1f","tickSize":-3,"labelPadding":10,"labelFontSize":11,"domainWidth":1,"title":"Energy(eV)","titleFontSize":17,"titleFontWeight":"bold","titlePadding":0}},
   "y":{"field":"v","type":"quantitative","scale":{"domain":[-0.02,1.03],"range":[113,5],"nice":false,"zero":false},"axis":{"orient":"left","offset":-109,"values":[0,0.25,0.5,0.75,1],"labels":false,"tickSize":-3,"domainWidth":1,"title":null}}}},
 {"data":{"name":"a1_abs"},"mark":{"type":"line","color":"#ff0000","strokeWidth":1.4,"interpolate":"monotone"},
  "encoding":{"x":{"field":"E","type":"quantitative","scale":{"domain":[2.085,2.346],"range":[109,256],"nice":false,"zero":false},"axis":{"orient":"top","offset":-5,"ticks":false,"labels":false,"domainWidth":1,"title":null}},
   "y":{"field":"v","type":"quantitative","scale":{"domain":[-0.02,1.03],"range":[113,5],"nice":false,"zero":false},"axis":{"orient":"right","offset":-773,"values":[0,0.25,0.5,0.75,1],"labelExpr":"datum.value == 0 || datum.value == 0.5 || datum.value == 1 ? format(datum.value, '.1f') : ''","tickSize":-3,"labelPadding":6,"labelFontSize":11,"labelColor":"#ff0000","domainWidth":1,"title":null}}}},
 {"data":{"values":[{"E":2.1257,"v":0.867,"t":"4 K"}]},"mark":{"type":"text","fontSize":17,"color":"#000"},
  "encoding":{"x":{"field":"E","type":"quantitative","scale":{"domain":[2.085,2.346],"range":[109,256],"nice":false,"zero":false},"axis":null},"y":{"field":"v","type":"quantitative","scale":{"domain":[-0.02,1.03],"range":[113,5],"nice":false,"zero":false},"axis":null},"text":{"field":"t"}}},
 {"data":{"values":[{"E":2.17,"v":0.56,"t":"PL"}]},"mark":{"type":"text","fontSize":15,"color":"#000"},
  "encoding":{"x":{"field":"E","type":"quantitative","scale":{"domain":[2.085,2.346],"range":[109,256],"nice":false,"zero":false},"axis":null},"y":{"field":"v","type":"quantitative","scale":{"domain":[-0.02,1.03],"range":[113,5],"nice":false,"zero":false},"axis":null},"text":{"field":"t"}}},
 {"data":{"values":[{"E":2.288,"v":0.56,"t":"ABS"}]},"mark":{"type":"text","fontSize":15,"color":"#ff0000"},
  "encoding":{"x":{"field":"E","type":"quantitative","scale":{"domain":[2.085,2.346],"range":[109,256],"nice":false,"zero":false},"axis":null},"y":{"field":"v","type":"quantitative","scale":{"domain":[-0.02,1.03],"range":[113,5],"nice":false,"zero":false},"axis":null},"text":{"field":"t"}}}
],"resolve":{"axis":{"x":"independent","y":"independent"}}},

{"layer":[
 {"data":{"name":"a2_pl"},"mark":{"type":"line","color":"#000","strokeWidth":1.4,"interpolate":"monotone"},
  "encoding":{"x":{"field":"E","type":"quantitative","scale":{"domain":[1.997,2.548],"range":[362,503],"nice":false,"zero":false},"axis":{"orient":"bottom","offset":-438,"values":[2.1,2.2,2.3,2.4,2.5],"labelExpr":"datum.value < 2.15 || (datum.value > 2.35 && datum.value < 2.45) ? format(datum.value, '.1f') : ''","tickSize":-3,"labelPadding":9,"labelFontSize":11,"domainWidth":1,"title":"Energy(eV)","titleFontSize":16,"titleFontWeight":"bold","titlePadding":0}},
   "y":{"field":"v","type":"quantitative","scale":{"domain":[-0.08,1.114],"range":[300,195],"nice":false,"zero":false},"axis":{"orient":"left","offset":-362,"values":[0,0.5,1],"format":".1f","tickSize":-3,"labelPadding":7,"labelFontSize":10,"domainWidth":1,"title":null}}}},
 {"data":{"name":"a2_abs"},"mark":{"type":"line","color":"#ff0000","strokeWidth":1.4,"interpolate":"monotone"},
  "encoding":{"x":{"field":"E","type":"quantitative","scale":{"domain":[1.997,2.548],"range":[362,503],"nice":false,"zero":false},"axis":{"orient":"top","offset":-195,"ticks":false,"labels":false,"domainWidth":1,"title":null}},
   "y":{"field":"v","type":"quantitative","scale":{"domain":[-0.08,1.114],"range":[300,195],"nice":false,"zero":false},"axis":{"orient":"right","offset":-526,"values":[0,0.25,0.5,0.75,1],"labels":false,"tickSize":-3,"domainWidth":1,"title":null}}}},
 {"data":{"values":[{"E":2.095,"v":0.924,"t":"295 K"}]},"mark":{"type":"text","fontSize":17,"color":"#000"},
  "encoding":{"x":{"field":"E","type":"quantitative","scale":{"domain":[1.997,2.548],"range":[362,503],"nice":false,"zero":false},"axis":null},"y":{"field":"v","type":"quantitative","scale":{"domain":[-0.08,1.114],"range":[300,195],"nice":false,"zero":false},"axis":null},"text":{"field":"t"}}},
 {"data":{"values":[{"E":2.133,"v":0.526,"t":"PL"}]},"mark":{"type":"text","fontSize":15,"color":"#000"},
  "encoding":{"x":{"field":"E","type":"quantitative","scale":{"domain":[1.997,2.548],"range":[362,503],"nice":false,"zero":false},"axis":null},"y":{"field":"v","type":"quantitative","scale":{"domain":[-0.08,1.114],"range":[300,195],"nice":false,"zero":false},"axis":null},"text":{"field":"t"}}},
 {"data":{"values":[{"E":2.42,"v":0.526,"t":"ABS"}]},"mark":{"type":"text","fontSize":15,"color":"#ff0000"},
  "encoding":{"x":{"field":"E","type":"quantitative","scale":{"domain":[1.997,2.548],"range":[362,503],"nice":false,"zero":false},"axis":null},"y":{"field":"v","type":"quantitative","scale":{"domain":[-0.08,1.114],"range":[300,195],"nice":false,"zero":false},"axis":null},"text":{"field":"t"}}}
],"resolve":{"axis":{"x":"independent","y":"independent"}}},

{"layer":[
 {"data":{"name":"b1_pl"},"mark":{"type":"line","color":"#000","strokeWidth":1.4,"interpolate":"monotone"},
  "encoding":{"x":{"field":"E","type":"quantitative","scale":{"domain":[1.3465,1.603],"range":[628,765],"nice":false,"zero":false},"axis":{"orient":"bottom","offset":-627,"values":[1.4,1.5,1.6],"format":".1f","tickSize":-3,"labelPadding":10,"labelFontSize":11,"domainWidth":1,"title":"Energy (eV)","titleFontSize":17,"titleFontWeight":"bold","titlePadding":0}},
   "y":{"field":"v","type":"quantitative","scale":{"domain":[-0.092,1.086],"range":[111,5],"nice":false,"zero":false},"axis":{"orient":"left","offset":-628,"values":[0,0.5,1],"labels":false,"tickSize":-3,"domainWidth":1,"title":null}}}},
 {"data":{"name":"b1_abs"},"mark":{"type":"line","color":"#ff0000","strokeWidth":1.4,"interpolate":"monotone"},
  "encoding":{"x":{"field":"E","type":"quantitative","scale":{"domain":[1.3465,1.603],"range":[628,765],"nice":false,"zero":false},"axis":{"orient":"top","offset":-5,"ticks":false,"labels":false,"domainWidth":1,"title":null}},
   "y":{"field":"v","type":"quantitative","scale":{"domain":[-0.092,1.086],"range":[111,5],"nice":false,"zero":false},"axis":{"orient":"right","offset":-264,"values":[0,0.5,1],"format":".1f","tickSize":-3,"labelPadding":6,"labelFontSize":11,"domainWidth":1,"title":null}}}},
 {"data":{"values":[{"E":1.3876,"v":0.863,"t":"4 K"}]},"mark":{"type":"text","fontSize":17,"color":"#000"},
  "encoding":{"x":{"field":"E","type":"quantitative","scale":{"domain":[1.3465,1.603],"range":[628,765],"nice":false,"zero":false},"axis":null},"y":{"field":"v","type":"quantitative","scale":{"domain":[-0.092,1.086],"range":[111,5],"nice":false,"zero":false},"axis":null},"text":{"field":"t"}}},
 {"data":{"values":[{"E":1.4377,"v":0.641,"t":"PL"}]},"mark":{"type":"text","fontSize":17,"color":"#000"},
  "encoding":{"x":{"field":"E","type":"quantitative","scale":{"domain":[1.3465,1.603],"range":[628,765],"nice":false,"zero":false},"axis":null},"y":{"field":"v","type":"quantitative","scale":{"domain":[-0.092,1.086],"range":[111,5],"nice":false,"zero":false},"axis":null},"text":{"field":"t"}}},
 {"data":{"values":[{"E":1.572,"v":0.66,"t":"ABS"}]},"mark":{"type":"text","fontSize":17,"color":"#ff0000"},
  "encoding":{"x":{"field":"E","type":"quantitative","scale":{"domain":[1.3465,1.603],"range":[628,765],"nice":false,"zero":false},"axis":null},"y":{"field":"v","type":"quantitative","scale":{"domain":[-0.092,1.086],"range":[111,5],"nice":false,"zero":false},"axis":null},"text":{"field":"t"}}}
],"resolve":{"axis":{"x":"independent","y":"independent"}}},

{"layer":[
 {"data":{"name":"b2_pl"},"mark":{"type":"line","color":"#000","strokeWidth":1.4,"interpolate":"monotone"},
  "encoding":{"x":{"field":"E","type":"quantitative","scale":{"domain":[1.225,1.867],"range":[891,1022],"nice":false,"zero":false},"axis":{"orient":"bottom","offset":-440,"values":[1.4,1.6,1.8],"format":".1f","tickSize":-3,"labelPadding":9,"labelFontSize":11,"domainWidth":1,"title":"Energy (eV)","titleFontSize":17,"titleFontWeight":"bold","titlePadding":0}},
   "y":{"field":"v","type":"quantitative","scale":{"domain":[-0.015,1.105],"range":[298,202],"nice":false,"zero":false},"axis":{"orient":"left","offset":-891,"values":[0,0.5,1],"format":".1f","tickSize":-3,"labelPadding":7,"labelFontSize":10,"domainWidth":1,"title":null}}}},
 {"data":{"name":"b2_abs"},"mark":{"type":"line","color":"#ff0000","strokeWidth":1.4,"interpolate":"monotone"},
  "encoding":{"x":{"field":"E","type":"quantitative","scale":{"domain":[1.225,1.867],"range":[891,1022],"nice":false,"zero":false},"axis":{"orient":"top","offset":-202,"ticks":false,"labels":false,"domainWidth":1,"title":null}},
   "y":{"field":"v","type":"quantitative","scale":{"domain":[-0.015,1.105],"range":[298,202],"nice":false,"zero":false},"axis":{"orient":"right","offset":-7,"values":[0,0.5,1],"labels":false,"tickSize":-3,"domainWidth":1,"title":null}}}},
 {"data":{"values":[{"E":1.367,"v":0.895,"t":"295 K"},{"E":1.392,"v":0.525,"t":"PL"}]},"mark":{"type":"text","fontSize":16,"color":"#000"},
  "encoding":{"x":{"field":"E","type":"quantitative","scale":{"domain":[1.225,1.867],"range":[891,1022],"nice":false,"zero":false},"axis":null},"y":{"field":"v","type":"quantitative","scale":{"domain":[-0.015,1.105],"range":[298,202],"nice":false,"zero":false},"axis":null},"text":{"field":"t"}}},
 {"data":{"values":[{"E":1.743,"v":0.467,"t":"ABS"}]},"mark":{"type":"text","fontSize":16,"color":"#ff0000"},
  "encoding":{"x":{"field":"E","type":"quantitative","scale":{"domain":[1.225,1.867],"range":[891,1022],"nice":false,"zero":false},"axis":null},"y":{"field":"v","type":"quantitative","scale":{"domain":[-0.015,1.105],"range":[298,202],"nice":false,"zero":false},"axis":null},"text":{"field":"t"}}}
],"resolve":{"axis":{"x":"independent","y":"independent"}}},

{"layer":[
 {"data":{"name":"c1_pl"},"mark":{"type":"line","color":"#000","strokeWidth":1.4,"interpolate":"monotone"},
  "encoding":{"x":{"field":"E","type":"quantitative","scale":{"domain":[1.35,1.601],"range":[109,249],"nice":false,"zero":false},"axis":{"orient":"bottom","offset":-279,"values":[1.4,1.5,1.6],"format":".1f","tickSize":-3,"labelPadding":10,"labelFontSize":11,"domainWidth":1,"title":"Energy(eV)","titleFontSize":17,"titleFontWeight":"bold","titlePadding":2}},
   "y":{"field":"v","type":"quantitative","scale":{"domain":[-0.1095,1.194],"range":[459,340],"nice":false,"zero":false},"axis":{"orient":"left","offset":-109,"values":[0,0.5,1],"labels":false,"tickSize":-3,"domainWidth":1,"title":null}}}},
 {"data":{"name":"c1_abs"},"mark":{"type":"line","color":"#ff0000","strokeWidth":1.4,"interpolate":"monotone"},
  "encoding":{"x":{"field":"E","type":"quantitative","scale":{"domain":[1.35,1.601],"range":[109,249],"nice":false,"zero":false},"axis":{"orient":"top","offset":-340,"ticks":false,"labels":false,"domainWidth":1,"title":null}},
   "y":{"field":"v","type":"quantitative","scale":{"domain":[-0.1095,1.194],"range":[459,340],"nice":false,"zero":false},"axis":{"orient":"right","offset":-780,"values":[0,0.5,1],"format":".1f","tickSize":-3,"labelPadding":6,"labelFontSize":11,"domainWidth":1,"title":null}}}},
 {"data":{"values":[{"E":1.3908,"v":0.993,"t":"4 K"},{"E":1.4385,"v":0.646,"t":"PL"}]},"mark":{"type":"text","fontSize":17,"color":"#000"},
  "encoding":{"x":{"field":"E","type":"quantitative","scale":{"domain":[1.35,1.601],"range":[109,249],"nice":false,"zero":false},"axis":null},"y":{"field":"v","type":"quantitative","scale":{"domain":[-0.1095,1.194],"range":[459,340],"nice":false,"zero":false},"axis":null},"text":{"field":"t"}}},
 {"data":{"values":[{"E":1.558,"v":0.555,"t":"ABS"}]},"mark":{"type":"text","fontSize":17,"color":"#ff0000"},
  "encoding":{"x":{"field":"E","type":"quantitative","scale":{"domain":[1.35,1.601],"range":[109,249],"nice":false,"zero":false},"axis":null},"y":{"field":"v","type":"quantitative","scale":{"domain":[-0.1095,1.194],"range":[459,340],"nice":false,"zero":false},"axis":null},"text":{"field":"t"}}}
],"resolve":{"axis":{"x":"independent","y":"independent"}}},

{"layer":[
 {"data":{"name":"c2_pl"},"mark":{"type":"line","color":"#000","strokeWidth":1.4,"interpolate":"monotone"},
  "encoding":{"x":{"field":"E","type":"quantitative","scale":{"domain":[1.235,1.903],"range":[375,503],"nice":false,"zero":false},"axis":{"orient":"bottom","offset":-98,"values":[1.4,1.6,1.8],"format":".1f","tickSize":-3,"labelPadding":9,"labelFontSize":11,"domainWidth":1,"title":"Energy(eV)","titleFontSize":16,"titleFontWeight":"bold","titlePadding":0}},
   "y":{"field":"v","type":"quantitative","scale":{"domain":[-0.097,1.232],"range":[640,535],"nice":false,"zero":false},"axis":{"orient":"left","offset":-375,"values":[0,0.5,1],"format":".1f","tickSize":-3,"labelPadding":7,"labelFontSize":10,"domainWidth":1,"title":null}}}},
 {"data":{"name":"c2_abs"},"mark":{"type":"line","color":"#ff0000","strokeWidth":1.4,"interpolate":"monotone"},
  "encoding":{"x":{"field":"E","type":"quantitative","scale":{"domain":[1.235,1.903],"range":[375,503],"nice":false,"zero":false},"axis":{"orient":"top","offset":-535,"ticks":false,"labels":false,"domainWidth":1,"title":null}},
   "y":{"field":"v","type":"quantitative","scale":{"domain":[-0.097,1.232],"range":[640,535],"nice":false,"zero":false},"axis":{"orient":"right","offset":-526,"values":[0,0.5,1],"labels":false,"tickSize":-3,"domainWidth":1,"title":null}}}},
 {"data":{"values":[{"E":1.348,"v":1.02,"t":"295 K"}]},"mark":{"type":"text","fontSize":17,"color":"#000"},
  "encoding":{"x":{"field":"E","type":"quantitative","scale":{"domain":[1.235,1.903],"range":[375,503],"nice":false,"zero":false},"axis":null},"y":{"field":"v","type":"quantitative","scale":{"domain":[-0.097,1.232],"range":[640,535],"nice":false,"zero":false},"axis":null},"text":{"field":"t"}}},
 {"data":{"values":[{"E":1.4,"v":0.472,"t":"PL"}]},"mark":{"type":"text","fontSize":15,"color":"#000"},
  "encoding":{"x":{"field":"E","type":"quantitative","scale":{"domain":[1.235,1.903],"range":[375,503],"nice":false,"zero":false},"axis":null},"y":{"field":"v","type":"quantitative","scale":{"domain":[-0.097,1.232],"range":[640,535],"nice":false,"zero":false},"axis":null},"text":{"field":"t"}}},
 {"data":{"values":[{"E":1.731,"v":0.472,"t":"ABS"}]},"mark":{"type":"text","fontSize":15,"color":"#ff0000"},
  "encoding":{"x":{"field":"E","type":"quantitative","scale":{"domain":[1.235,1.903],"range":[375,503],"nice":false,"zero":false},"axis":null},"y":{"field":"v","type":"quantitative","scale":{"domain":[-0.097,1.232],"range":[640,535],"nice":false,"zero":false},"axis":null},"text":{"field":"t"}}}
],"resolve":{"axis":{"x":"independent","y":"independent"}}},

{"layer":[
 {"data":{"name":"d1_pl"},"mark":{"type":"line","color":"#000","strokeWidth":1.4,"interpolate":"monotone"},
  "encoding":{"x":{"field":"E","type":"quantitative","scale":{"domain":[0.781,1.504],"range":[628,787],"nice":false,"zero":false},"axis":{"orient":"bottom","offset":-268,"values":[0.9,1.2,1.5],"format":".1f","tickSize":-3,"labelPadding":10,"labelFontSize":11,"domainWidth":1,"title":"Energy(eV)","titleFontSize":17,"titleFontWeight":"bold","titlePadding":2}},
   "y":{"field":"v","type":"quantitative","scale":{"domain":[-0.108,1.095],"range":[470,340],"nice":false,"zero":false},"axis":{"orient":"left","offset":-628,"values":[0,0.5,1],"labels":false,"tickSize":-3,"domainWidth":1,"title":null}}}},
 {"data":{"name":"d1_abs"},"mark":{"type":"line","color":"#ff0000","strokeWidth":1.4,"interpolate":"monotone"},
  "encoding":{"x":{"field":"E","type":"quantitative","scale":{"domain":[0.781,1.504],"range":[628,787],"nice":false,"zero":false},"axis":{"orient":"top","offset":-340,"ticks":false,"labels":false,"domainWidth":1,"title":null}},
   "y":{"field":"v","type":"quantitative","scale":{"domain":[-0.108,1.095],"range":[470,340],"nice":false,"zero":false},"axis":{"orient":"right","offset":-242,"values":[0,0.5,1],"format":".1f","tickSize":-3,"labelPadding":6,"labelFontSize":11,"domainWidth":1,"title":null}}}},
 {"data":{"values":[{"E":0.889,"v":0.931,"t":"4 K"},{"E":0.9645,"v":0.37,"t":"PL"}]},"mark":{"type":"text","fontSize":17,"color":"#000"},
  "encoding":{"x":{"field":"E","type":"quantitative","scale":{"domain":[0.781,1.504],"range":[628,787],"nice":false,"zero":false},"axis":null},"y":{"field":"v","type":"quantitative","scale":{"domain":[-0.108,1.095],"range":[470,340],"nice":false,"zero":false},"axis":null},"text":{"field":"t"}}},
 {"data":{"values":[{"E":1.26,"v":0.385,"t":"ABS"}]},"mark":{"type":"text","fontSize":17,"color":"#ff0000"},
  "encoding":{"x":{"field":"E","type":"quantitative","scale":{"domain":[0.781,1.504],"range":[628,787],"nice":false,"zero":false},"axis":null},"y":{"field":"v","type":"quantitative","scale":{"domain":[-0.108,1.095],"range":[470,340],"nice":false,"zero":false},"axis":null},"text":{"field":"t"}}}
],"resolve":{"axis":{"x":"independent","y":"independent"}}},

{"layer":[
 {"data":{"name":"d2_pl"},"mark":{"type":"line","color":"#000","strokeWidth":1.4,"interpolate":"monotone"},
  "encoding":{"x":{"field":"E","type":"quantitative","scale":{"domain":[0.8,1.478],"range":[867,1028],"nice":false,"zero":false},"axis":{"orient":"bottom","offset":-106,"values":[0.8,1.0,1.2,1.4],"labelExpr":"datum.value < 0.85 || (datum.value > 1.15 && datum.value < 1.25) ? format(datum.value, '.1f') : ''","tickSize":-3,"labelPadding":9,"labelFontSize":11,"domainWidth":1,"title":"Energy(eV)","titleFontSize":17,"titleFontWeight":"bold","titlePadding":0}},
   "y":{"field":"v","type":"quantitative","scale":{"domain":[-0.085,1.095],"range":[632,512],"nice":false,"zero":false},"axis":{"orient":"left","offset":-867,"values":[0,0.5,1],"format":".1f","tickSize":-3,"labelPadding":7,"labelFontSize":10,"domainWidth":1,"title":null}}}},
 {"data":{"name":"d2_abs"},"mark":{"type":"line","color":"#ff0000","strokeWidth":1.4,"interpolate":"monotone"},
  "encoding":{"x":{"field":"E","type":"quantitative","scale":{"domain":[0.8,1.478],"range":[867,1028],"nice":false,"zero":false},"axis":{"orient":"top","offset":-512,"ticks":false,"labels":false,"domainWidth":1,"title":null}},
   "y":{"field":"v","type":"quantitative","scale":{"domain":[-0.085,1.095],"range":[632,512],"nice":false,"zero":false},"axis":{"orient":"right","offset":-1,"values":[0,0.5,1],"labels":false,"tickSize":-3,"domainWidth":1,"title":null}}}},
 {"data":{"values":[{"E":0.932,"v":0.95,"t":"295 K"},{"E":1.002,"v":0.704,"t":"PL"}]},"mark":{"type":"text","fontSize":17,"color":"#000"},
  "encoding":{"x":{"field":"E","type":"quantitative","scale":{"domain":[0.8,1.478],"range":[867,1028],"nice":false,"zero":false},"axis":null},"y":{"field":"v","type":"quantitative","scale":{"domain":[-0.085,1.095],"range":[632,512],"nice":false,"zero":false},"axis":null},"text":{"field":"t"}}},
 {"data":{"values":[{"E":1.388,"v":0.704,"t":"ABS"}]},"mark":{"type":"text","fontSize":17,"color":"#ff0000"},
  "encoding":{"x":{"field":"E","type":"quantitative","scale":{"domain":[0.8,1.478],"range":[867,1028],"nice":false,"zero":false},"axis":null},"y":{"field":"v","type":"quantitative","scale":{"domain":[-0.085,1.095],"range":[632,512],"nice":false,"zero":false},"axis":null},"text":{"field":"t"}}}
],"resolve":{"axis":{"x":"independent","y":"independent"}}}
],
"resolve":{"scale":{"x":"independent","y":"independent"},"axis":{"x":"independent","y":"independent"}}
}
